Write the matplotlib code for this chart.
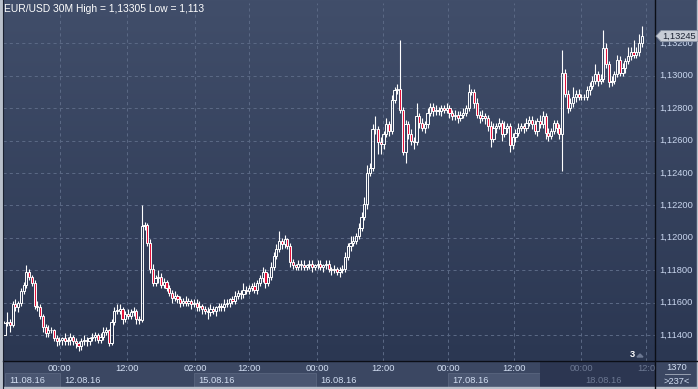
import matplotlib
matplotlib.use("Agg")
import matplotlib.pyplot as plt
import matplotlib.transforms as mtransforms
from matplotlib.patches import Rectangle, Polygon
from matplotlib.colors import LinearSegmentedColormap
import numpy as np

plt.rcParams['font.family'] = ['Liberation Sans', 'DejaVu Sans']

# EUR/USD 30M candles, 11.08.16 13:00 .. 18.08.16 ~13:00
first_open = 1.1140
closes = [
    1.11474, 1.1148, 1.1146, 1.1159, 1.1157, 1.1160, 1.1167, 1.1171, 1.1179, 1.1176,
    1.1172, 1.1158, 1.1157, 1.1152, 1.1145, 1.1141, 1.1143, 1.1143, 1.1138, 1.1136,
    1.1137, 1.1138, 1.1136, 1.1137, 1.1139, 1.1136, 1.1135, 1.1133, 1.1136, 1.1137,
    1.1136, 1.1138, 1.1139, 1.1140, 1.1137, 1.1139, 1.1142, 1.1143, 1.1135, 1.1148,
    1.1155, 1.1155, 1.1156, 1.1150, 1.1153, 1.1152, 1.1154, 1.1155, 1.1150, 1.1149,
    1.1207, 1.1208, 1.1197, 1.1181, 1.1172, 1.1175, 1.1176, 1.1171, 1.1173, 1.1169,
    1.1166, 1.1163, 1.1164, 1.1162, 1.1160, 1.1161, 1.1160, 1.1161, 1.1159, 1.1160,
    1.1157, 1.1158, 1.1156, 1.1155, 1.1154, 1.1156, 1.1155, 1.1157, 1.1158, 1.1157,
    1.1159, 1.1160, 1.1162, 1.1161, 1.1164, 1.1166, 1.1165, 1.1168, 1.1167, 1.1169,
    1.1170, 1.1168, 1.1172, 1.1175, 1.1179, 1.1172, 1.1176, 1.1182, 1.1189, 1.1193,
    1.1198, 1.1196, 1.1199, 1.1195, 1.1185, 1.1183, 1.1182, 1.1184, 1.1183, 1.1182,
    1.1183, 1.1184, 1.1182, 1.1183, 1.1184, 1.1182, 1.1183, 1.1184, 1.1181, 1.1180,
    1.1181, 1.1179, 1.1180, 1.1181, 1.1188, 1.1195, 1.1197, 1.1198, 1.1201, 1.1206,
    1.1213, 1.1221, 1.1240, 1.1243, 1.1267, 1.1267, 1.1259, 1.1258, 1.1264, 1.1270,
    1.1266, 1.1285, 1.1291, 1.1292, 1.1279, 1.1253, 1.1270, 1.1264, 1.1260, 1.1259,
    1.1275, 1.1271, 1.1268, 1.1270, 1.1277, 1.1281, 1.1278, 1.1279, 1.1278, 1.1280,
    1.1279, 1.1280, 1.1277, 1.1275, 1.1276, 1.1274, 1.1276, 1.1277, 1.1280, 1.1290,
    1.1290, 1.1283, 1.1276, 1.1274, 1.1275, 1.1274, 1.1269, 1.1261, 1.1268, 1.1269,
    1.1271, 1.1264, 1.1268, 1.1269, 1.1257, 1.1262, 1.1265, 1.1268, 1.1269, 1.1268,
    1.1271, 1.1273, 1.1270, 1.1266, 1.1272, 1.1270, 1.1275, 1.1265, 1.1263, 1.1266,
    1.1271, 1.1268, 1.1264, 1.1302, 1.1289, 1.1280, 1.1283, 1.1287, 1.1289, 1.1287,
    1.1287, 1.1287, 1.1291, 1.1294, 1.1297, 1.1301, 1.1297, 1.1298, 1.1317, 1.1307,
    1.1296, 1.1297, 1.1301, 1.1310, 1.1302, 1.1305, 1.1309, 1.1312, 1.1315, 1.1313,
    1.1315, 1.1320, 1.13245,
]
# wick lengths in pips above / below the candle body
up_wick = [
    1, 6, 2, 2, 3, 1, 2, 2, 4, 2,  1, 2, 3, 2, 1, 2, 3, 2, 1, 2,
    2, 1, 3, 2, 2, 1, 2, 1, 2, 3,  2, 1, 2, 2, 1, 2, 3, 2, 1, 2,
    2, 4, 3, 1, 2, 3, 2, 2, 1, 2,  13, 2, 1, 2, 3, 2, 4, 2, 2, 1,
    2, 2, 3, 1, 2, 2, 3, 2, 1, 2,  2, 3, 1, 2, 2, 3, 2, 1, 2, 2,
    3, 2, 1, 2, 3, 2, 2, 4, 2, 2,  2, 3, 2, 2, 3, 2, 2, 3, 2, 3,
    6, 2, 3, 1, 2, 2, 1, 2, 2, 3,  1, 2, 2, 1, 2, 2, 1, 2, 2, 1,
    2, 1, 2, 2, 3, 2, 4, 3, 2, 3,  3, 4, 5, 3, 3, 8, 2, 3, 2, 4,
    2, 3, 2, 3, 30, 2, 3, 2, 3, 2,  8, 2, 3, 2, 3, 2, 2, 3, 2, 2,
    2, 3, 2, 2, 3, 2, 2, 3, 2, 5,  2, 2, 3, 2, 4, 2, 2, 3, 3, 2,
    3, 2, 4, 2, 2, 3, 2, 3, 2, 2,  3, 2, 2, 3, 2, 4, 3, 2, 3, 2,
    2, 2, 2, 14, 2, 2, 3, 6, 2, 3,  2, 2, 3, 2, 3, 6, 2, 3, 11, 3,
    2, 3, 2, 3, 2, 3, 2, 6, 3, 7,  3, 6, 6,
]
down_wick = [
    0, 2, 4, 1, 2, 3, 2, 2, 2, 2,  2, 2, 2, 2, 3, 2, 2, 2, 2, 3,
    2, 3, 2, 2, 3, 2, 3, 3, 2, 2,  3, 2, 2, 3, 2, 2, 2, 2, 2, 1,
    2, 2, 2, 3, 2, 2, 2, 2, 3, 2,  1, 2, 2, 3, 2, 2, 3, 2, 2, 2,
    2, 3, 2, 2, 3, 2, 2, 2, 3, 2,  2, 2, 3, 2, 4, 2, 2, 3, 2, 2,
    2, 2, 3, 2, 2, 2, 3, 2, 2, 2,  2, 2, 3, 2, 2, 3, 2, 2, 2, 2,
    2, 3, 2, 2, 3, 2, 2, 2, 3, 2,  2, 2, 3, 2, 2, 2, 3, 2, 2, 3,
    2, 2, 3, 2, 2, 2, 3, 2, 2, 2,  2, 2, 3, 2, 2, 3, 7, 6, 3, 2,
    3, 2, 2, 2, 2, 2, 7, 3, 3, 4,  2, 3, 2, 3, 2, 2, 3, 2, 2, 3,
    2, 2, 3, 2, 2, 3, 2, 2, 2, 2,  2, 3, 2, 3, 2, 4, 3, 5, 2, 3,
    2, 4, 2, 3, 4, 2, 3, 2, 2, 3,  2, 2, 3, 2, 3, 2, 2, 4, 3, 2,
    2, 3, 3, 23, 2, 3, 2, 2, 3, 2,  2, 2, 2, 3, 2, 2, 3, 2, 2, 2,
    3, 2, 2, 2, 2, 2, 3, 2, 2, 2,  2, 3, 2,
]

price_ticks = [1.114, 1.116, 1.118, 1.120, 1.122, 1.124, 1.126, 1.128, 1.130, 1.132]
time_ticks = [20.2, 44.6, 69.4, 89.0, 113.8, 137.8, 161.5, 185.5, 209.9, 233.6]
time_labels = ['00:00', '12:00', '02:00', '12:00', '00:00', '12:00', '00:00', '12:00', '00:00', '12:0']
day_starts = [-0.5, 20.2, 69.0, 113.4, 161.5, 209.9]
day_labels = ['11.08.16', '12.08.16', '15.08.16', '16.08.16', '17.08.16', '18.08.16']
last_price = 1.13245
title = 'EUR/USD 30M High = 1,13305 Low = 1,113'

W, H = 698, 389
fig = plt.figure(figsize=(W / 100, H / 100), dpi=100)

# background (pixel coordinates)
bg = fig.add_axes([0, 0, 1, 1])
bg.axis('off')
grad = np.linspace(0, 1, 256)[:, None]
cmap = LinearSegmentedColormap.from_list('bg', ['#414e6a', '#2b3752'])
bg.imshow(grad, cmap=cmap, extent=[0, W, 361, 0], aspect='auto')
bg.add_patch(Rectangle((0, 361), W, H - 361, color='#3b4762'))
bg.set_xlim(0, W)
bg.set_ylim(H, 0)

# main chart
ax = fig.add_axes([3 / W, 28 / H, 652 / W, 358 / H])
ax.patch.set_alpha(0)
ax.set_xlim(-0.51, 236.8)
ax.set_ylim(1.112395, 1.134494)
for s in ax.spines.values():
    s.set_visible(False)
ax.set_xticks([])
ax.set_yticks([])

for p in price_ticks:
    ax.axhline(p, color='#5a6884', lw=0.75, ls=(0, (3, 3)), zorder=1)
for t in time_ticks:
    ax.axvline(t, color='#5a6884', lw=0.75, ls=(0, (3, 3)), zorder=1)

opens = [first_open] + closes[:-1]
for i, (o, c) in enumerate(zip(opens, closes)):
    top, bot = max(o, c), min(o, c)
    hi = top + up_wick[i] * 0.0001
    lo = bot - down_wick[i] * 0.0001
    ax.vlines(i, top, hi, color='white', lw=0.8, zorder=2)
    ax.vlines(i, lo, bot, color='white', lw=0.8, zorder=2)
    h = max(top - bot, 0.00002)
    face = '#e3123a' if c < o else 'none'
    ax.add_patch(Rectangle((i - 0.4, bot), 0.8, h, facecolor=face,
                           edgecolor='white', lw=0.7, zorder=3))

ov = fig.add_axes([0, 0, 1, 1])
ov.set_xlim(0, W)
ov.set_ylim(H, 0)
ov.axis('off')
ov.patch.set_alpha(0)

# last price tag position (pixels from top)
ty = H - ax.transData.transform((0, last_price))[1]

# price scale labels (the one under the price tag shows only below it)
blend_y = mtransforms.blended_transform_factory(ax.transAxes, ax.transData)
tag_clip = Rectangle((656, ty + 5.5), 42, 30, transform=ov.transData)
for p in price_ticks:
    txt = ax.text(1.006, p, f'{p:.5f}'.replace('.', ','), transform=blend_y,
                  ha='left', va='center', fontsize=6.7, color='#c9d6ee', clip_on=False)
    py = H - ax.transData.transform((0, p))[1]
    if abs(py - ty) < 12:
        txt.set_clip_on(True)
        txt.set_clip_path(tag_clip)

# time labels
blend_x = mtransforms.blended_transform_factory(ax.transData, ax.transAxes)
for t, lab in zip(time_ticks, time_labels):
    col = '#6c7892' if t > 195 else '#d2def2'
    ax.text(t, -0.021, lab, transform=blend_x, ha='center', va='center',
            fontsize=6.7, color=col, clip_on=False)


def to_px(i):
    return 3 + (i + 0.51) / (236.8 + 0.51) * 652


# date boxes
for k, (d0, lab) in enumerate(zip(day_starts, day_labels)):
    x0 = max(to_px(d0), 5)
    x1 = to_px(day_starts[k + 1]) if k + 1 < len(day_starts) else 655
    if k in (0, 2, 4):
        bg.add_patch(Rectangle((x0, 373), x1 - x0, 14, facecolor='#4a5671',
                               edgecolor='#56627c', lw=0.7))
    col = '#6c7892' if k == 5 else '#d2def2'
    ov.text(x0 + 4, 380.5, lab, ha='left', va='center', fontsize=6.7, color=col)

# darker scroll region at the right of the time axis
bg.add_patch(Rectangle((540, 362), 115, 27, facecolor='#2c3651', edgecolor='none', zorder=5))

# separators and frame
ov.plot([655, 655], [0, H], color='#0b0e16', lw=1.0)
ov.plot([3, W], [361, 361], color='#0b0e16', lw=1.0)
ov.plot([3, 3], [0, H], color='#1a2030', lw=0.8)
ov.add_patch(Rectangle((0, 0), 2.2, H, color='#b9c0cb'))
ov.add_patch(Rectangle((0, H - 2.2), W, 2.2, color='#b9c0cb'))
ov.add_patch(Rectangle((W - 1.2, 0), 1.2, H, color='#b9c0cb'))

# last price tag
ov.add_patch(Polygon([(656, ty), (661, ty - 5.5), (698, ty - 5.5), (698, ty + 5.5), (661, ty + 5.5)],
                     closed=True, facecolor='#c8cdd6', edgecolor='#8e97a8', lw=0.6, zorder=6))
ov.text(662, ty + 0.3, f'{last_price:.5f}'.replace('.', ','), ha='left', va='center',
        fontsize=6.7, color='#1c2333', zorder=7)

# bottom right counters
ov.text(677, 367.5, '1370', ha='center', va='center', fontsize=6.7, color='#d2def2')
ov.plot([665, 690], [374, 374], color='#a6aebd', lw=0.6)
ov.text(677, 381, '>237<', ha='center', va='center', fontsize=6.7, color='#d2def2')

# small marker near the bottom right of chart
ov.text(632, 354.5, '3', ha='center', va='center', fontsize=6.7, color='white', fontweight='bold')
ov.add_patch(Polygon([(637, 357), (640, 354), (643, 357)], closed=True, color='#6c7892'))

ov.text(4, 9, title, ha='left', va='center', fontsize=7.4, color='white')

fig.savefig('out.png', dpi=100)
